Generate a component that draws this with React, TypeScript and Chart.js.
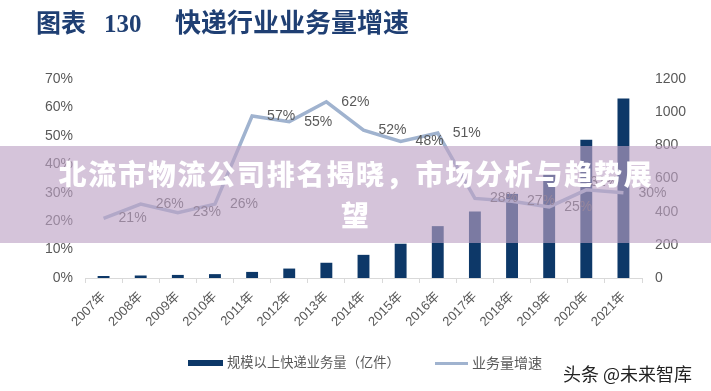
import React, { useEffect, useRef } from 'react';
import { Chart, registerables } from 'chart.js';

Chart.register(...registerables);

const years = ['2007年', '2008年', '2009年', '2010年', '2011年', '2012年', '2013年', '2014年', '2015年', '2016年', '2017年', '2018年', '2019年', '2020年', '2021年'];
const volume = [12, 15.1, 18.6, 23.4, 36.7, 56.9, 91.9, 139.6, 206.7, 312.8, 400.6, 507.1, 635.2, 833.6, 1083];
const growth = [21, 26, 23, 26, 57, 55, 62, 52, 48, 51, 28, 27, 25, 31, 30];
const growthLabels = ['21%', '26%', '23%', '26%', '57%', '55%', '62%', '52%', '48%', '51%', '28%', '27%', '25%', '31%', '30%'];
const leftAxis = { min: 0, max: 70, step: 10 };
const rightAxis = { min: 0, max: 1200, step: 200 };

const barName = '规模以上快递业务量（亿件）';
const lineName = '业务量增速';
const titleA = '图表';
const titleB = '130';
const titleC = '快递行业业务量增速';
const overlayText = '北流市物流公司排名揭晓，市场分析与趋势展望';
const watermark = '头条 @未来智库';

const NAVY = '#0d3868';
const LINEBLUE = '#a0b3cf';
const GRAY = '#595959';
const SANS = '"Liberation Sans", Arial, "Noto Sans CJK SC", sans-serif';

const labelPlugin = {
  id: 'lineLabels',
  afterDatasetsDraw(chart: any) {
    const meta = chart.getDatasetMeta(1);
    if (!meta || !meta.data) return;
    const ctx = chart.ctx;
    ctx.save();
    ctx.font = '14px ' + SANS;
    ctx.fillStyle = GRAY;
    ctx.textAlign = 'center';
    ctx.textBaseline = 'middle';
    meta.data.forEach((pt: any, i: number) => {
      let dx = 29;
      let dy = 0;
      if (i === 13) { dx = 18; dy = -8; }
      ctx.fillText(growthLabels[i], pt.x + dx, pt.y + dy);
    });
    ctx.restore();
  },
};

export default function App() {
  const ref = useRef<HTMLCanvasElement | null>(null);
  useEffect(() => {
    if (!ref.current) return;
    const chart = new Chart(ref.current, {
      type: 'bar',
      data: {
        labels: years,
        datasets: [
          {
            type: 'bar',
            label: barName,
            data: volume,
            backgroundColor: NAVY,
            yAxisID: 'y1',
            categoryPercentage: 1,
            barPercentage: 0.32,
            order: 2,
          } as any,
          {
            type: 'line',
            label: lineName,
            data: growth,
            borderColor: LINEBLUE,
            borderWidth: 3.5,
            pointRadius: 0,
            tension: 0,
            yAxisID: 'y',
            order: 1,
          } as any,
        ],
      },
      options: {
        responsive: false,
        animation: false,
        devicePixelRatio: 1,
        layout: { padding: { top: 79, left: 0, right: 0, bottom: 0 } },
        plugins: { legend: { display: false }, tooltip: { enabled: false } },
        scales: {
          x: {
            offset: true,
            grid: { display: true, drawOnChartArea: false, drawTicks: true, tickLength: 5, color: '#d9d9d9', offset: true },
            border: { display: true, color: '#d9d9d9' },
            ticks: { color: GRAY, font: { size: 13, family: SANS }, minRotation: 45, maxRotation: 45, autoSkip: false, padding: 6 },
            afterFit: (s: any) => { s.height = 113; },
          },
          y: {
            position: 'left',
            min: leftAxis.min,
            max: leftAxis.max,
            grid: { display: false, drawTicks: false },
            border: { display: false },
            ticks: { stepSize: leftAxis.step, color: GRAY, font: { size: 14, family: SANS }, padding: 12, callback: (v: any) => v + '%' },
            afterFit: (s: any) => { s.width = 85; },
          },
          y1: {
            position: 'right',
            min: rightAxis.min,
            max: rightAxis.max,
            grid: { display: false, drawTicks: false },
            border: { display: false },
            ticks: { stepSize: rightAxis.step, color: GRAY, font: { size: 14, family: SANS }, padding: 13, callback: (v: any) => String(v) },
            afterFit: (s: any) => { s.width = 69; },
          },
        },
      },
      plugins: [labelPlugin],
    } as any);
    return () => chart.destroy();
  }, []);

  const titleFont = '"Liberation Serif", "Noto Sans CJK SC", serif';
  return (
    <div style={{ position: 'fixed', left: 0, top: 0, width: 711, height: 391, background: '#fff', overflow: 'hidden' }}>
      <canvas ref={ref} width={711} height={391} style={{ position: 'absolute', left: 0, top: 0, width: 711, height: 391 }} />
      <div style={{ position: 'absolute', left: 36, top: 10, fontFamily: titleFont, fontWeight: 700, fontSize: 25, lineHeight: '28px', color: '#1f3f73', whiteSpace: 'nowrap' }}>{titleA}</div>
      <div style={{ position: 'absolute', left: 104, top: 10, fontFamily: titleFont, fontWeight: 700, fontSize: 25, lineHeight: '28px', color: '#1f3f73', whiteSpace: 'nowrap' }}>{titleB}</div>
      <div style={{ position: 'absolute', left: 175, top: 10, fontFamily: titleFont, fontWeight: 700, fontSize: 26, lineHeight: '28px', color: '#1f3f73', whiteSpace: 'nowrap' }}>{titleC}</div>

      <div style={{ position: 'absolute', left: 188, top: 360, width: 35, height: 6, background: NAVY }} />
      <div style={{ position: 'absolute', left: 227, top: 353, fontFamily: '"Noto Sans CJK SC", sans-serif', fontSize: 13.3, lineHeight: '18px', color: GRAY, whiteSpace: 'nowrap' }}>{barName}</div>
      <div style={{ position: 'absolute', left: 435, top: 362, width: 33, height: 3, background: LINEBLUE }} />
      <div style={{ position: 'absolute', left: 472, top: 353, fontFamily: '"Noto Sans CJK SC", sans-serif', fontSize: 14, lineHeight: '18px', color: GRAY, whiteSpace: 'nowrap' }}>{lineName}</div>
      <div style={{ position: 'absolute', left: 563, top: 361, fontFamily: '"Noto Sans CJK SC", sans-serif', fontSize: 18, lineHeight: '24px', color: '#222', whiteSpace: 'nowrap' }}>{watermark}</div>

      <div style={{ position: 'absolute', left: 0, top: 146, width: 711, height: 97, background: 'rgba(189,161,197,0.63)' }} />
      <div style={{ position: 'absolute', left: 50, top: 153, width: 612, textAlign: 'center', fontFamily: '"Noto Sans CJK SC", sans-serif', fontWeight: 900, fontSize: 28, lineHeight: '41px', letterSpacing: 1.75, color: '#fff' }}>{overlayText}</div>
    </div>
  );
}
